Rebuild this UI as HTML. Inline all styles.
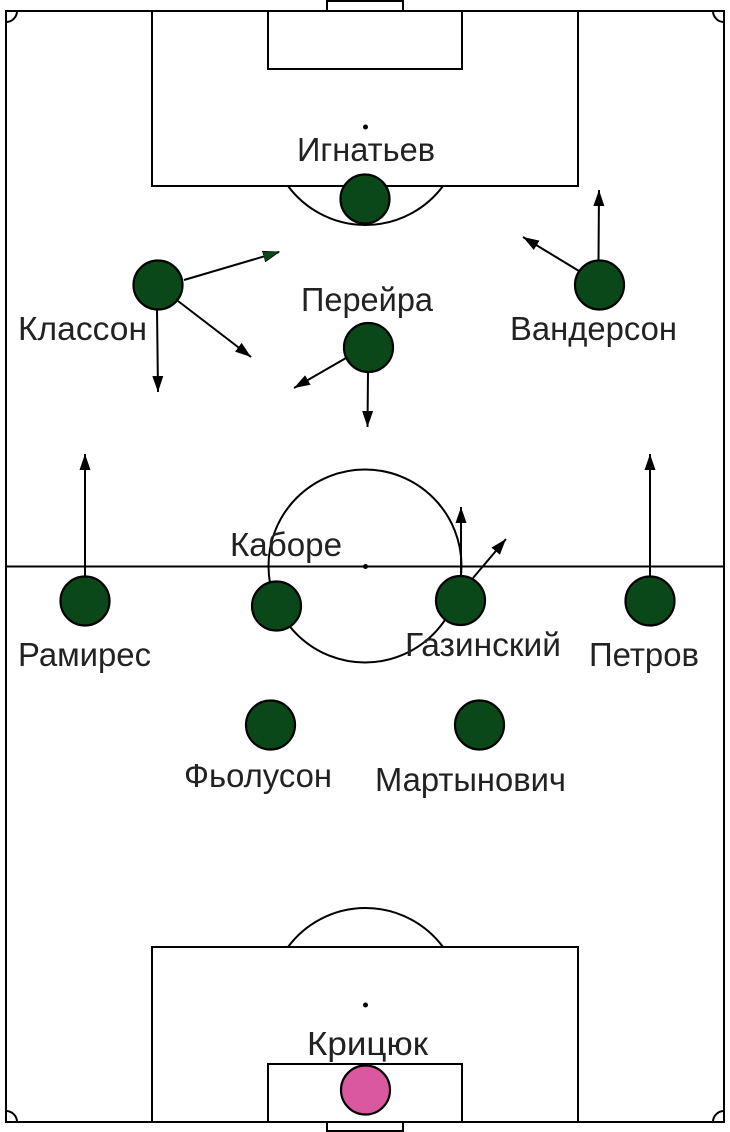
<!DOCTYPE html>
<html><head><meta charset="utf-8"><style>
html,body{margin:0;padding:0;background:#fff;width:730px;height:1132px;overflow:hidden}
svg{display:block}
text{font-family:"Liberation Sans","DejaVu Sans",sans-serif;font-size:33.5px;fill:#222}
.l{fill:none;stroke:#000;stroke-width:2}
.a{stroke:#000;stroke-width:2;fill:none}
.p{fill:#0a481a;stroke:#000;stroke-width:2.2}
</style></head><body>
<svg width="730" height="1132" viewBox="0 0 730 1132" xmlns="http://www.w3.org/2000/svg">
<defs>
<marker id="h" markerUnits="userSpaceOnUse" markerWidth="17" markerHeight="12" refX="16" refY="6" orient="auto"><path d="M0 0.5L16 6L0 11.5Z" fill="#000"/></marker>
<marker id="g" markerUnits="userSpaceOnUse" markerWidth="17" markerHeight="12" refX="16" refY="6" orient="auto"><path d="M0 0.5L16 6L0 11.5Z" fill="#0a481a" stroke="#000" stroke-width=".8"/></marker>
</defs>
<rect class="l" x="6" y="11" width="718" height="1111"/>
<path class="l" d="M6 22A11 11 0 0 0 17 11M713 11A11 11 0 0 0 724 22M6 1111A11 11 0 0 1 17 1122M713 1122A11 11 0 0 1 724 1111"/>
<path class="l" d="M327 11V1H403V11M327 1122V1131H403V1122"/>
<rect class="l" x="152" y="11" width="426" height="175"/>
<rect class="l" x="268" y="11" width="194" height="58"/>
<path class="l" d="M288 186A96.5 96.5 0 0 0 443 186"/>
<circle cx="365.5" cy="127" r="2.5" fill="#000"/>
<rect class="l" x="152" y="947" width="426" height="175"/>
<rect class="l" x="268" y="1064" width="194" height="58"/>
<path class="l" d="M288 947A96.5 96.5 0 0 1 443 947"/>
<circle cx="365.5" cy="1005" r="2.5" fill="#000"/>
<path class="l" d="M6 566.5H724"/>
<circle class="l" cx="365" cy="566" r="96.5"/>
<circle cx="365.5" cy="566.5" r="2.5" fill="#000"/>

<path class="a" marker-end="url(#g)" d="M184 280L279 252"/>
<path class="a" marker-end="url(#h)" d="M157 309L158 392"/>
<path class="a" marker-end="url(#h)" d="M178 301L251 357"/>
<path class="a" marker-end="url(#h)" d="M346 358L294 388"/>
<path class="a" marker-end="url(#h)" d="M368 372L367.5 427"/>
<path class="a" marker-end="url(#h)" d="M598.5 261L599 190"/>
<path class="a" marker-end="url(#h)" d="M579 271L523 237"/>
<path class="a" marker-end="url(#h)" d="M85 577V454"/>
<path class="a" marker-end="url(#h)" d="M650 577V454"/>
<path class="a" marker-end="url(#h)" d="M461 576V507"/>
<path class="a" marker-end="url(#h)" d="M473 578L506 539"/>

<circle class="p" cx="365" cy="199" r="24.5"/>
<circle class="p" cx="158" cy="285" r="24.5"/>
<circle class="p" cx="599.5" cy="285" r="24.5"/>
<circle class="p" cx="368.5" cy="347.5" r="24.5"/>
<circle class="p" cx="85" cy="601" r="24.5"/>
<circle class="p" cx="276.5" cy="606" r="24.5"/>
<circle class="p" cx="460.5" cy="600.5" r="24.5"/>
<circle class="p" cx="650" cy="601" r="24.5"/>
<circle class="p" cx="270.5" cy="725" r="24.5"/>
<circle class="p" cx="479.5" cy="725" r="24.5"/>
<circle cx="365.5" cy="1090" r="24.5" fill="#d9589f" stroke="#000" stroke-width="2.2"/>

<text x="297" y="161" textLength="138" lengthAdjust="spacingAndGlyphs">Игнатьев</text>
<text x="18" y="340" textLength="129" lengthAdjust="spacingAndGlyphs">Классон</text>
<text x="301" y="311" textLength="132" lengthAdjust="spacingAndGlyphs">Перейра</text>
<text x="510" y="340" textLength="167" lengthAdjust="spacingAndGlyphs">Вандерсон</text>
<text x="230" y="556" textLength="112" lengthAdjust="spacingAndGlyphs">Каборе</text>
<text x="18" y="666" textLength="133" lengthAdjust="spacingAndGlyphs">Рамирес</text>
<text x="405" y="656" textLength="156" lengthAdjust="spacingAndGlyphs">Газинский</text>
<text x="589" y="666" textLength="110" lengthAdjust="spacingAndGlyphs">Петров</text>
<text x="184" y="787" textLength="148" lengthAdjust="spacingAndGlyphs">Фьолусон</text>
<text x="375" y="791" textLength="191" lengthAdjust="spacingAndGlyphs">Мартынович</text>
<text x="307" y="1055" textLength="121" lengthAdjust="spacingAndGlyphs">Крицюк</text>
</svg>
</body></html>
